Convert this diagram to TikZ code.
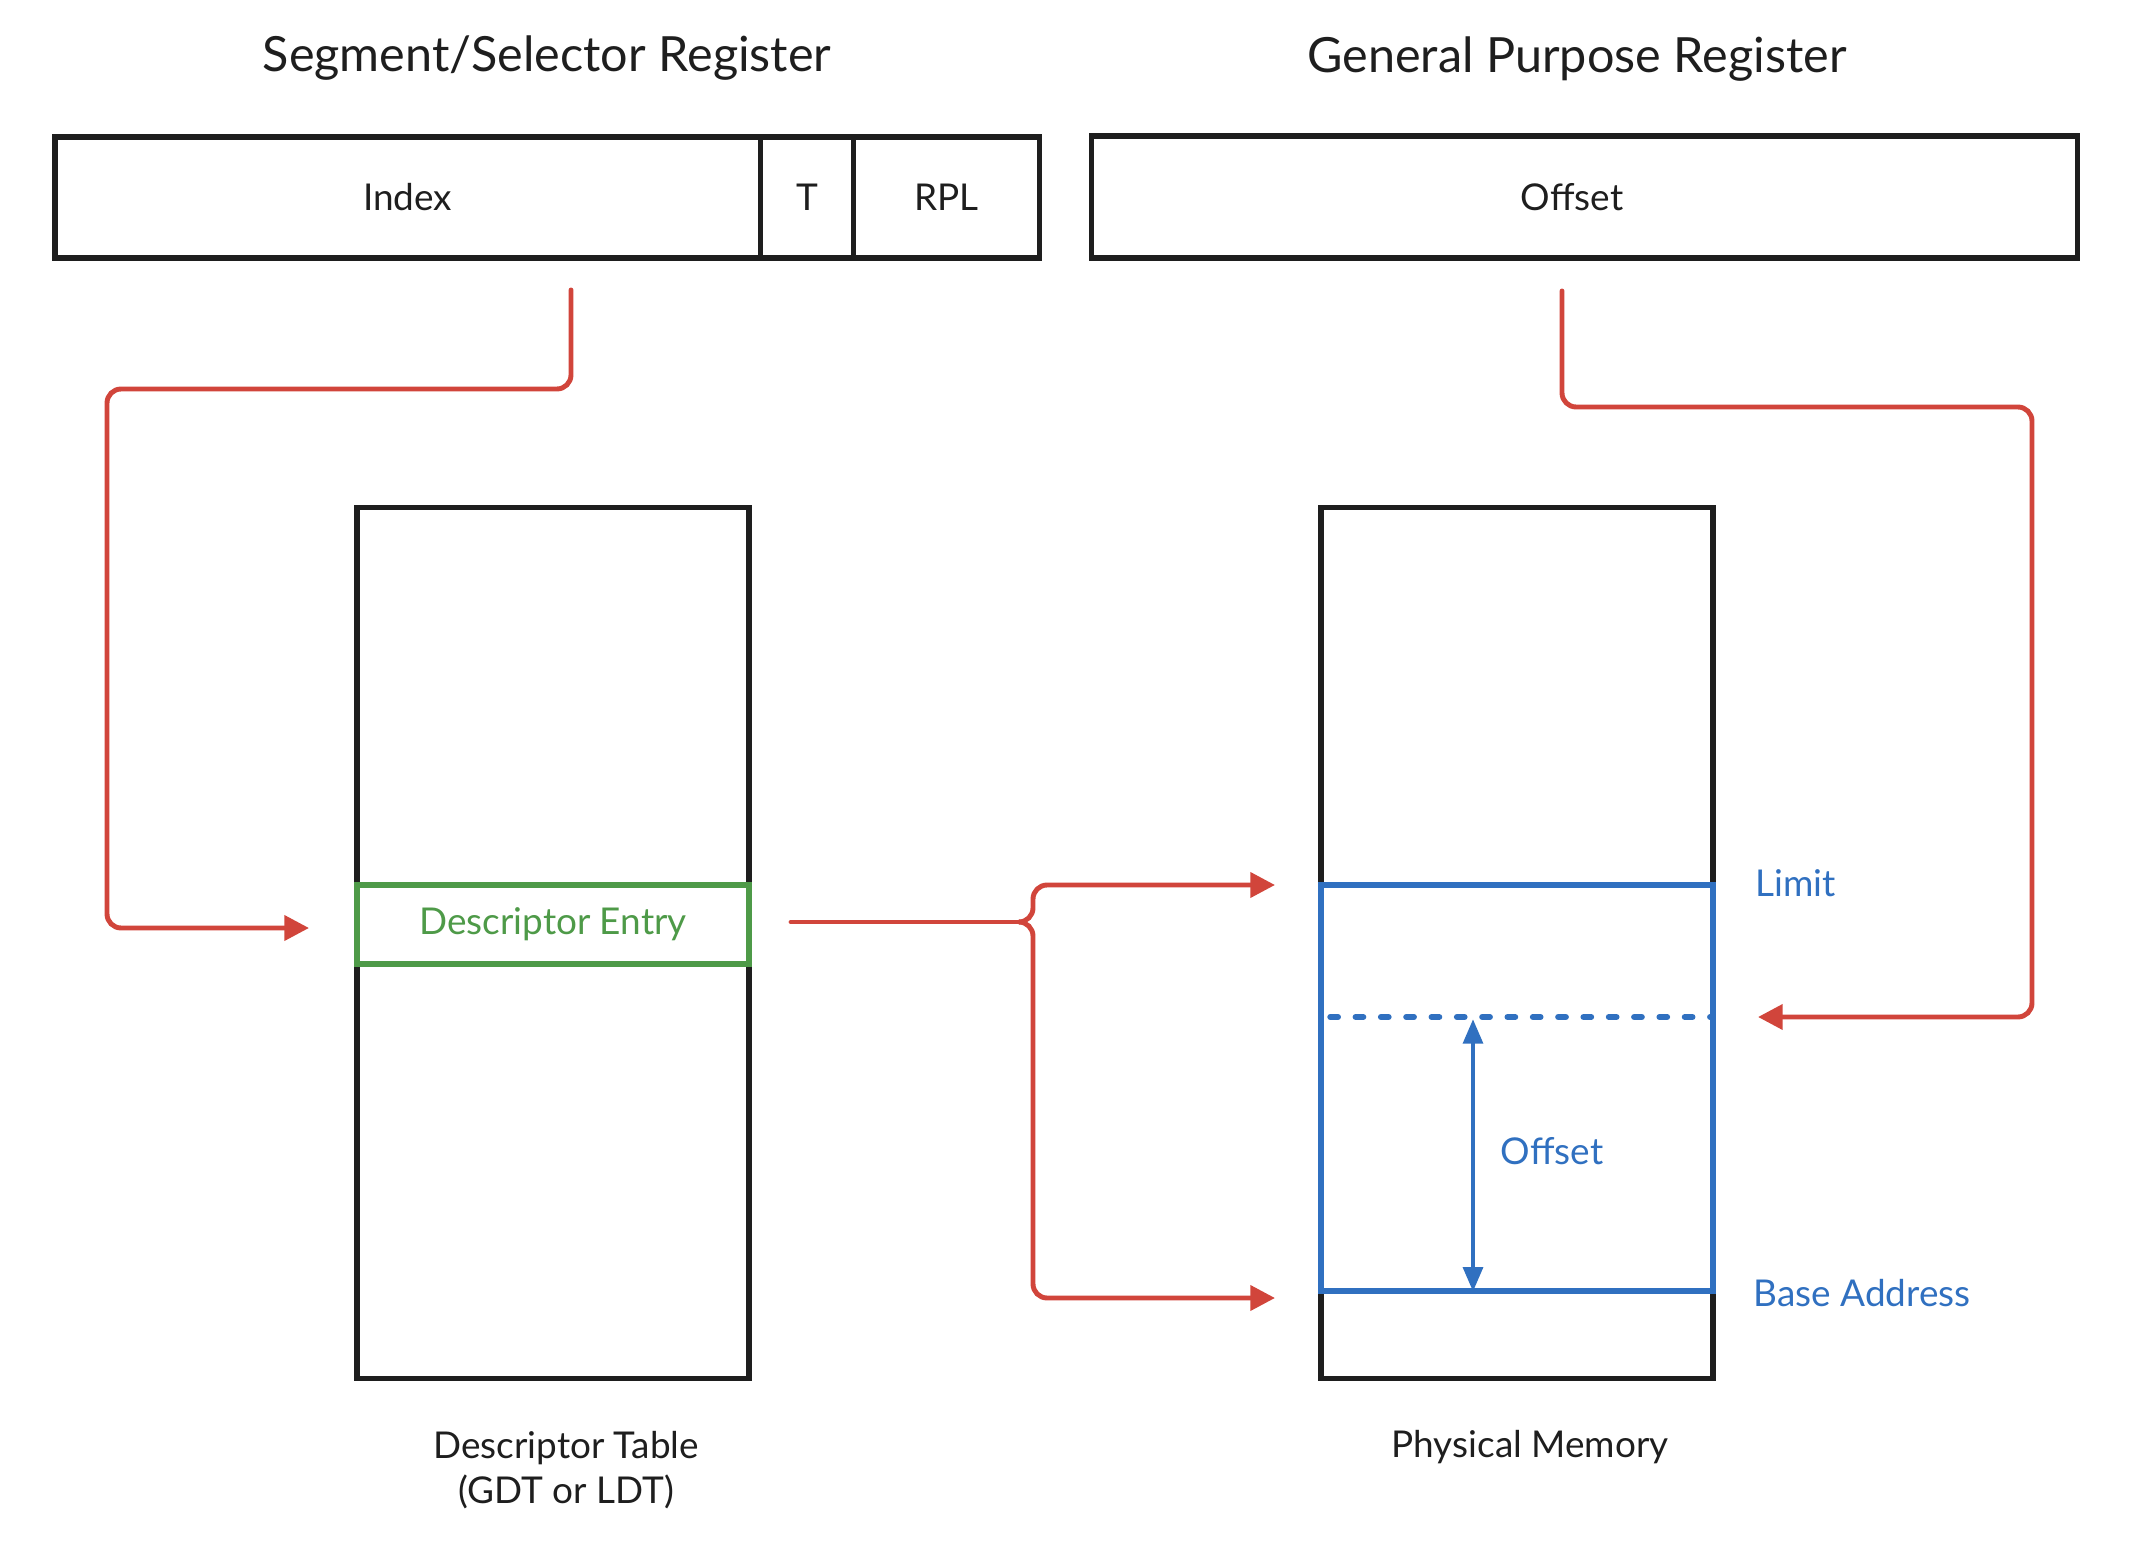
\documentclass[tikz,border=0pt]{standalone}
\usepackage{fontspec}
\setmainfont{Lato}
\usetikzlibrary{positioning, arrows.meta}

\definecolor{ink}{HTML}{1E1E1E}
\definecolor{linkred}{HTML}{D1453B}
\definecolor{entrygreen}{HTML}{4E9A48}
\definecolor{segblue}{HTML}{3070C0}

\begin{document}
\begin{tikzpicture}[
        x=0.01cm, y=-0.01cm,
        node distance=0pt,
        field/.style={draw=ink, line width=1.5pt, outer sep=0pt, minimum height=1.21cm, inner sep=0pt, text=ink, font=\fontsize{10.5}{12}\selectfont},
        column/.style={draw=ink, line width=1.5pt, minimum width=3.92cm, minimum height=8.70cm, inner sep=0pt},
        title/.style={text=ink, font=\fontsize{13.8}{16}\selectfont},
        caption/.style={text=ink, align=center, font=\fontsize{10.5}{12.8}\selectfont},
        bluelabel/.style={text=segblue, inner sep=0pt, font=\fontsize{10.5}{12}\selectfont},
        link/.style={draw=linkred, line width=1.4pt, rounded corners=4pt, line cap=round, -{Triangle[length=7pt, width=7pt]}},
        fork/.style={draw=linkred, line width=1.4pt, line cap=round},
        ruler/.style={draw=segblue, line width=1.4pt, {Triangle[length=7pt, width=5.5pt]}-{Triangle[length=7pt, width=5.5pt]}},
        marker/.style={draw=segblue, line width=1.7pt, line cap=round, dash pattern=on 2.2pt off 5pt}
    ]
    \useasboundingbox (0,0) rectangle (2154,1552);

    % registers
    \node[field, minimum width=7.05cm, anchor=west] (index) at (55,197.5) {Index};
    \node[field, minimum width=0.93cm, right=of index] (tbit) {T};
    \node[field, minimum width=1.86cm, right=of tbit] (rpl) {RPL};
    \node[field, minimum width=9.85cm, minimum height=1.22cm, text width=9.55cm, align=center] (gpr) at (1584.5,197) {Offset\hspace*{0.25cm}};

    \node[title] (seltitle) at (547,58) {Segment/Selector Register};
    \node[title] (gprtitle) at (1577,59) {General Purpose Register};

    % tables
    \node[column] (table) at (553,943) {};
    \node[column] (memory) at (1517,943) {};
    \node[draw=entrygreen, line width=1.5pt, minimum width=3.92cm, minimum height=0.79cm, text=entrygreen, font=\fontsize{10.5}{12}\selectfont] (entry) at (553,924.5) {Descriptor Entry};
    \node[draw=segblue, line width=1.5pt, minimum width=3.92cm, minimum height=4.06cm] (segment) at (1517,1088) {};

    \node[caption] (tablecap) at (566,1470) {Descriptor Table\\(GDT or LDT)};
    \node[caption] (memcap) at (1530,1447) {Physical Memory};

    % offset inside the segment
    \coordinate (offmark) at (1473,1017);
    \draw[marker] ([xshift=0.12cm]segment.west |- offmark) -- ([xshift=-0.03cm]segment.east |- offmark);
    \draw[ruler] ([yshift=-0.02cm]offmark) -- ([yshift=0.02cm]offmark |- segment.south);
    \node[bluelabel] (offlabel) at (1552,1151) {Offset};
    \node[bluelabel, anchor=west] (limit) at (1755,883) {Limit};
    \node[bluelabel, anchor=west] (base) at (1753,1293) {Base Address};

    % links
    \coordinate (selout) at (571,290);
    \coordinate (tablein) at (309,928);
    \coordinate (gprout) at (1562,291);
    \coordinate (memin) at (1758,1017);
    \coordinate (entryout) at (791,922);
    \coordinate (split) at (1019,922);
    \coordinate (limitin) at (1275,885);
    \coordinate (basein) at (1275,1298);

    \draw[link] (selout) |- (107,389) |- (tablein);
    \draw[link] (gprout) |- (2032,407) |- (memin);
    \draw[fork] (entryout) -- (split);
    \draw[link] (split) -| (1033,885) -- (limitin);
    \draw[link] (split) -| (1033,1298) -- (basein);
\end{tikzpicture}
\end{document}
